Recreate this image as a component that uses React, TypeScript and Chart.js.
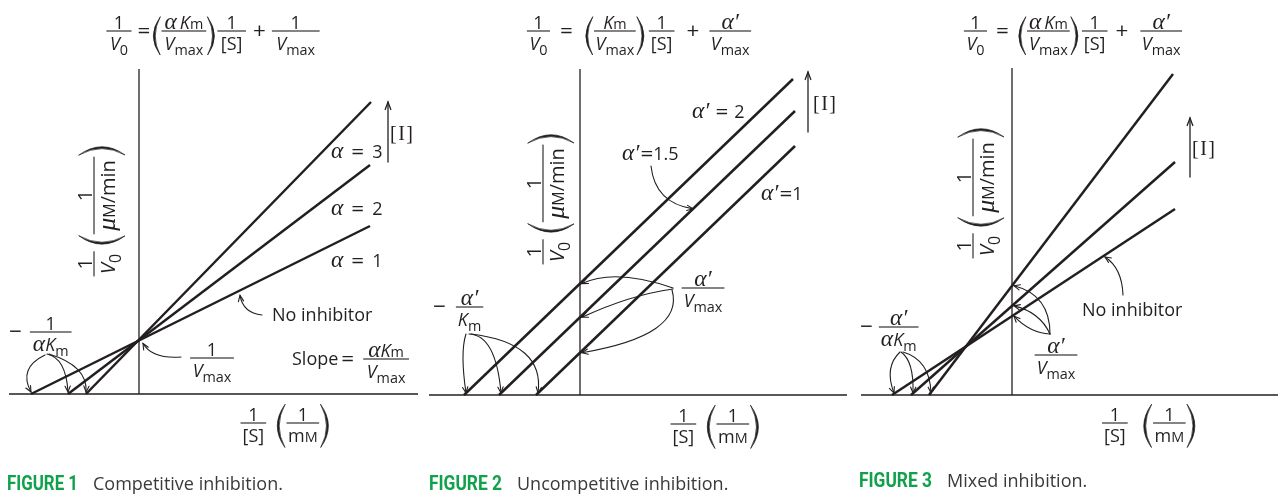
import React, { useEffect, useRef } from 'react';
import { Chart, registerables } from 'chart.js';

Chart.register(...registerables);

type Pt = { x: number; y: number };

// ---------- data (schematic double-reciprocal plots, x = 1/[S], y = 1/V0) ----------
const FIG1_X_RANGE = [-3.25, 6.975];
const FIG1_Y_MAX = 8.125;
const FIG1_SERIES = ['No inhibitor (α = 1)', 'α = 2', 'α = 3'];
const FIG1_NO_INHIBITOR: Pt[] = [{ x: -2.7, y: 0 }, { x: 5.775, y: 4.2 }];
const FIG1_ALPHA_2: Pt[] = [{ x: -1.775, y: 0 }, { x: 5.775, y: 5.725 }];
const FIG1_ALPHA_3: Pt[] = [{ x: -1.325, y: 0 }, { x: 5.8, y: 7.3 }];

const FIG2_X_RANGE = [-3.775, 6.675];
const FIG2_Y_MAX = 8.15;
const FIG2_SERIES = ["α' = 1", "α' = 1.5", "α' = 2"];
const FIG2_ALPHA_P_1: Pt[] = [{ x: -1.1, y: 0 }, { x: 5.375, y: 6.225 }];
const FIG2_ALPHA_P_15: Pt[] = [{ x: -2.025, y: 0 }, { x: 5.375, y: 7.1 }];
const FIG2_ALPHA_P_2: Pt[] = [{ x: -2.9, y: 0 }, { x: 5.325, y: 7.9 }];

const FIG3_X_RANGE = [-3.775, 6.65];
const FIG3_Y_MAX = 8.175;
const FIG3_SERIES = ['No inhibitor', 'Low [I]', 'High [I]'];
const FIG3_NO_INHIBITOR: Pt[] = [{ x: -3.0, y: 0 }, { x: 4.075, y: 4.65 }];
const FIG3_LOW: Pt[] = [{ x: -2.525, y: 0 }, { x: 4.075, y: 5.825 }];
const FIG3_HIGH: Pt[] = [{ x: -2.075, y: 0 }, { x: 4.025, y: 8.025 }];

// ---------- styles ----------
const INK = '#231f20';
const GREEN = '#10a14b';
const CAPTION_INK = '#3a3a3a';
const SANS = '"Open Sans", "Noto Sans", "DejaVu Sans", sans-serif';
const SERIF = '"Liberation Serif", "DejaVu Serif", serif';
const FS = 18;

type Seg = { t: string; st?: 'i' | 'g' | 'sf' | 'op'; sub?: boolean; sc?: boolean };
type Item =
  | { k: 't'; segs: Seg[] }
  | { k: 'f'; num: Seg[]; den: Seg[]; pad: number }
  | { k: 'p'; open: boolean; h: number; dy: number }
  | { k: 's'; w: number };

const g = (t: string): Seg => ({ t, st: 'g' });
const it = (t: string): Seg => ({ t, st: 'i' });
const r = (t: string): Seg => ({ t });
const op = (t: string): Seg => ({ t, st: 'op' });
const sub = (t: string): Seg => ({ t, sub: true });
const sc = (t: string): Seg => ({ t, sc: true });

const ONE = [r('1')];
const V0 = [it('V'), sub('0')];
const VMAX = [it('V'), sub('max')];
const KM = [it('K'), sub('m')];
const ALPHA_P = [g('α′')];
const AKM = [g('α'), ...KM];
const A_KM_SPACED = [g('α'), r('\u2009'), ...KM];
const S_BR = [r('[S]')];
const MM = [r('m'), sc('M')];
const UM_MIN = [g('μ'), sc('M'), r('/min')];

const T = (x: string | Seg[]): Item => ({ k: 't', segs: typeof x === 'string' ? [r(x)] : x });
const O = (x: string): Item => ({ k: 't', segs: [op(x)] });
const F = (num: Seg[], den: Seg[], pad = 6): Item => ({ k: 'f', num, den, pad });
const P = (open: boolean, h: number, dy: number): Item => ({ k: 'p', open, h, dy });
const SP = (w: number): Item => ({ k: 's', w });

function fontOf(s: Seg, size: number): string {
  let z = size;
  if (s.sub) z *= 0.8;
  if (s.sc) z *= 0.8;
  if (s.st === 'i') return `italic ${z}px ${SANS}`;
  if (s.st === 'g') return `italic ${z * 1.3}px ${SERIF}`;
  if (s.st === 'sf') return `${z * 1.08}px ${SERIF}`;
  if (s.st === 'op') return `${z * 1.25}px ${SANS}`;
  return `${z}px ${SANS}`;
}
function segsW(ctx: CanvasRenderingContext2D, segs: Seg[], size: number) {
  let w = 0;
  for (const s of segs) {
    ctx.font = fontOf(s, size);
    w += ctx.measureText(s.t).width;
  }
  return w;
}
function drawSegs(ctx: CanvasRenderingContext2D, segs: Seg[], x: number, base: number, size: number, subDrop: number) {
  for (const s of segs) {
    ctx.font = fontOf(s, size);
    const dy = s.sub ? subDrop : s.st === 'op' ? size * 0.08 : 0;
    ctx.fillText(s.t, x, base + dy);
    x += ctx.measureText(s.t).width;
  }
}
function itemW(ctx: CanvasRenderingContext2D, item: Item, size: number) {
  if (item.k === 't') return segsW(ctx, item.segs, size);
  if (item.k === 'f') return Math.max(segsW(ctx, item.num, size), segsW(ctx, item.den, size)) + item.pad;
  if (item.k === 'p') return Math.max(size * 0.5, item.h * 0.24);
  return item.w;
}
function drawParen(ctx: CanvasRenderingContext2D, x: number, cy: number, h: number, w: number, open: boolean) {
  const top = cy - h / 2;
  const bot = cy + h / 2;
  const e = open ? x + w * 0.85 : x + w * 0.15;
  const bo = open ? x + w * 0.1 : x + w * 0.9;
  const bi = open ? bo + 1.9 : bo - 1.9;
  ctx.beginPath();
  ctx.moveTo(e, top);
  ctx.quadraticCurveTo(2 * bo - e, cy, e, bot);
  ctx.quadraticCurveTo(2 * bi - e, cy, e, top);
  ctx.closePath();
  ctx.fill();
  ctx.lineWidth = 0.7;
  ctx.stroke();
}
function drawItems(ctx: CanvasRenderingContext2D, items: Item[], x0: number, axisY: number, size: number, align: 'left' | 'center') {
  const total = items.reduce((s, i) => s + itemW(ctx, i, size), 0);
  let x = align === 'center' ? x0 - total / 2 : x0;
  for (const item of items) {
    const w = itemW(ctx, item, size);
    if (item.k === 't') drawSegs(ctx, item.segs, x, axisY + size * 0.32, size, size * 0.28);
    else if (item.k === 'f') {
      const nw = segsW(ctx, item.num, size);
      const dw = segsW(ctx, item.den, size);
      drawSegs(ctx, item.num, x + (w - nw) / 2, axisY - 2.2, size, 0);
      drawSegs(ctx, item.den, x + (w - dw) / 2, axisY + size * 1.05, size, size * 0.28);
      ctx.fillRect(x, axisY - 0.55, w, 1.1);
    } else if (item.k === 'p') drawParen(ctx, x, axisY + item.dy, item.h, w, item.open);
    x += w;
  }
}
function textLine(ctx: CanvasRenderingContext2D, items: Item[], x: number, base: number) {
  drawItems(ctx, items, x, base - FS * 0.32, FS, 'left');
}
function arrowHead(ctx: CanvasRenderingContext2D, x: number, y: number, ang: number, len = 6.5, spread = 0.42) {
  ctx.beginPath();
  ctx.moveTo(x - len * Math.cos(ang - spread), y - len * Math.sin(ang - spread));
  ctx.lineTo(x, y);
  ctx.lineTo(x - len * Math.cos(ang + spread), y - len * Math.sin(ang + spread));
  ctx.stroke();
}
function curveArrow(ctx: CanvasRenderingContext2D, x0: number, y0: number, cx: number, cy: number, x1: number, y1: number) {
  ctx.lineWidth = 1.1;
  ctx.beginPath();
  ctx.moveTo(x0, y0);
  ctx.quadraticCurveTo(cx, cy, x1, y1);
  ctx.stroke();
  arrowHead(ctx, x1, y1, Math.atan2(y1 - cy, x1 - cx));
}
function upArrow(ctx: CanvasRenderingContext2D, x: number, yb: number, yt: number) {
  ctx.lineWidth = 1.3;
  ctx.beginPath();
  ctx.moveTo(x, yb);
  ctx.lineTo(x, yt);
  ctx.stroke();
  arrowHead(ctx, x, yt, -Math.PI / 2, 8, 0.36);
}
function bracketI(ctx: CanvasRenderingContext2D, x: number, base: number) {
  ctx.font = `20px ${SERIF}`;
  let cx = x;
  for (const ch of ['[', 'I', ']']) {
    ctx.fillText(ch, cx, base);
    cx += ctx.measureText(ch).width + 1.5;
  }
}
function yLabel(ctx: CanvasRenderingContext2D, barX: number, cy: number) {
  ctx.save();
  ctx.translate(barX, cy);
  ctx.rotate(-Math.PI / 2);
  drawItems(ctx, [F(ONE, V0, 5), SP(6), P(true, 46, 8), F(ONE, UM_MIN, 7), P(false, 46, 8)], 0, 0, 20, 'center');
  ctx.restore();
}
function xLabel(ctx: CanvasRenderingContext2D, cx: number, axisY: number, gap: number) {
  drawItems(ctx, [F(ONE, S_BR, 4), SP(gap), P(true, 43, 3), F(ONE, MM, 3), P(false, 43, 3)], cx, axisY, FS, 'center');
}
function caption(ctx: CanvasRenderingContext2D, fig: string, x: number, w: number, text: string, tx: number, base: number) {
  ctx.save();
  ctx.fillStyle = GREEN;
  ctx.font = `bold 21px Roboto, "DejaVu Sans", sans-serif`;
  const mw = ctx.measureText(fig).width;
  ctx.translate(x, base);
  ctx.scale(w / mw, 1);
  ctx.fillText(fig, 0, 0);
  ctx.restore();
  ctx.save();
  ctx.fillStyle = CAPTION_INK;
  ctx.font = `18px ${SANS}`;
  ctx.fillText(text, tx, base);
  ctx.restore();
}
function lineY(pts: Pt[], x: number) {
  const [p, q] = pts;
  return p.y + ((q.y - p.y) * (x - p.x)) / (q.x - p.x);
}

type Notes = (ctx: CanvasRenderingContext2D, X: (v: number) => number, Y: (v: number) => number) => void;

const notes1: Notes = (ctx, X, Y) => {
  drawItems(ctx, [F(ONE, V0, 7), SP(6), O('='), SP(2), P(true, 38, 5), F(A_KM_SPACED, VMAX, 6), P(false, 38, 5), SP(2), F(ONE, S_BR, 7), SP(7), O('+'), SP(6), F(ONE, VMAX, 9)], 213, 31, FS, 'center');
  yLabel(ctx, 94, 211);
  xLabel(ctx, 285, 423, 10);
  textLine(ctx, [T([g('α')]), SP(8), O('='), SP(8), T('3')], 331, 158);
  textLine(ctx, [T([g('α')]), SP(8), O('='), SP(8), T('2')], 331, 215);
  textLine(ctx, [T([g('α')]), SP(8), O('='), SP(8), T('1')], 331, 267);
  upArrow(ctx, 388, 162, 102);
  bracketI(ctx, 390, 140);
  textLine(ctx, [T('No inhibitor')], 272, 321);
  const tx = 2.525;
  curveArrow(ctx, 262, 315, 243, 313, X(tx), Y(lineY(FIG1_NO_INHIBITOR, tx)) + 5);
  drawItems(ctx, [F(ONE, VMAX, 5)], 212, 358, FS, 'center');
  curveArrow(ctx, 181, 357, 152, 359, X(0) + 4, Y(lineY(FIG1_NO_INHIBITOR, 0)) + 3);
  drawItems(ctx, [T('Slope'), SP(3), O('='), SP(9), F(AKM, VMAX, 7)], 292, 359, FS, 'left');
  drawItems(ctx, [O('−'), SP(8), F(ONE, AKM, 6)], 9, 332, FS, 'left');
  const y0 = Y(0) - 2;
  curveArrow(ctx, 45, 355, 18, 368, X(FIG1_NO_INHIBITOR[0].x), y0);
  curveArrow(ctx, 47, 354, 66, 358, X(FIG1_ALPHA_2[0].x), y0);
  curveArrow(ctx, 49, 354, 88, 366, X(FIG1_ALPHA_3[0].x), y0);
  caption(ctx, 'FIGURE 1', 7, 71, 'Competitive inhibition.', 93, 490);
};

const notes2: Notes = (ctx, X, Y) => {
  drawItems(ctx, [F(ONE, V0, 5), SP(10), O('='), SP(12), P(true, 38, 5), F(KM, VMAX, 3), P(false, 38, 5), SP(4), F(ONE, S_BR, 4), SP(12), O('+'), SP(10), F(ALPHA_P, VMAX, 3)], 639, 31, FS, 'center');
  yLabel(ctx, 543, 199);
  xLabel(ctx, 715, 424, 10);
  textLine(ctx, [T(ALPHA_P), SP(6), O('='), SP(6), T('2')], 692, 118);
  textLine(ctx, [T(ALPHA_P), SP(1), O('='), T('1.5')], 622, 160);
  textLine(ctx, [T(ALPHA_P), SP(1), O('='), T('1')], 761, 200);
  const t15 = 2.825;
  curveArrow(ctx, 651, 166, 655, 203, X(t15), Y(lineY(FIG2_ALPHA_P_15, t15)));
  upArrow(ctx, 808, 132, 72);
  bracketI(ctx, 813, 110);
  drawItems(ctx, [F(ALPHA_P, VMAX, 4)], 703, 288, FS, 'center');
  const ax = X(0) + 2;
  curveArrow(ctx, 673, 288, 615, 268, ax, Y(lineY(FIG2_ALPHA_P_2, 0)));
  curveArrow(ctx, 673, 289, 630, 295, ax, Y(lineY(FIG2_ALPHA_P_15, 0)));
  curveArrow(ctx, 672, 290, 685, 335, ax, Y(lineY(FIG2_ALPHA_P_1, 0)));
  drawItems(ctx, [O('−'), SP(10), F(ALPHA_P, KM, 4)], 433, 307, FS, 'left');
  const y0 = Y(0) - 2;
  curveArrow(ctx, 466, 334, 460, 352, X(FIG2_ALPHA_P_2[0].x) + 2, y0);
  curveArrow(ctx, 469, 334, 496, 335, X(FIG2_ALPHA_P_15[0].x) + 2, y0);
  curveArrow(ctx, 471, 334, 545, 343, X(FIG2_ALPHA_P_1[0].x) + 2, y0);
  caption(ctx, 'FIGURE 2', 429, 73, 'Uncompetitive inhibition.', 517, 490);
};

const notes3: Notes = (ctx, X, Y) => {
  drawItems(ctx, [F(ONE, V0, 5), SP(9), O('='), SP(9), P(true, 38, 5), F(A_KM_SPACED, VMAX, 4), P(false, 38, 5), SP(3), F(ONE, S_BR, 4), SP(8), O('+'), SP(12), F(ALPHA_P, VMAX, 3)], 1073, 31, FS, 'center');
  yLabel(ctx, 973, 193);
  xLabel(ctx, 1149, 423, 15);
  upArrow(ctx, 1190, 177, 118);
  bracketI(ctx, 1192, 155);
  textLine(ctx, [T('No inhibitor')], 1082, 316);
  const tn = 2.325;
  curveArrow(ctx, 1123, 295, 1122, 268, X(tn), Y(lineY(FIG3_NO_INHIBITOR, tn)) + 2);
  drawItems(ctx, [F(ALPHA_P, VMAX, 4)], 1056, 355, FS, 'center');
  const ax = X(0) + 2;
  curveArrow(ctx, 1050, 334, 1050, 295, ax, Y(lineY(FIG3_HIGH, 0)));
  curveArrow(ctx, 1050, 334, 1040, 312, ax, Y(lineY(FIG3_LOW, 0)));
  curveArrow(ctx, 1050, 334, 1030, 333, ax, Y(lineY(FIG3_NO_INHIBITOR, 0)));
  drawItems(ctx, [O('−'), SP(6), F(ALPHA_P, AKM, 4)], 860, 327, FS, 'left');
  const y0 = Y(0) - 2;
  curveArrow(ctx, 900, 352, 884, 367, X(FIG3_NO_INHIBITOR[0].x) + 2, y0);
  curveArrow(ctx, 901, 352, 914, 361, X(FIG3_LOW[0].x) + 2, y0);
  curveArrow(ctx, 903, 352, 930, 360, X(FIG3_HIGH[0].x) + 2, y0);
  caption(ctx, 'FIGURE 3', 859, 73, 'Mixed inhibition.', 947, 487);
};

type PanelCfg = {
  left: number;
  width: number;
  padding: { left: number; right: number; top: number; bottom: number };
  xRange: number[];
  yMax: number;
  names: string[];
  lines: Pt[][];
  notes: Notes;
};

const PANELS: PanelCfg[] = [
  { left: 0, width: 425, padding: { left: 9, right: 7, top: 69, bottom: 106 }, xRange: FIG1_X_RANGE, yMax: FIG1_Y_MAX, names: FIG1_SERIES, lines: [FIG1_NO_INHIBITOR, FIG1_ALPHA_2, FIG1_ALPHA_3], notes: notes1 },
  { left: 425, width: 425, padding: { left: 4, right: 3, top: 69, bottom: 105 }, xRange: FIG2_X_RANGE, yMax: FIG2_Y_MAX, names: FIG2_SERIES, lines: [FIG2_ALPHA_P_1, FIG2_ALPHA_P_15, FIG2_ALPHA_P_2], notes: notes2 },
  { left: 850, width: 431, padding: { left: 11, right: 3, top: 68, bottom: 105 }, xRange: FIG3_X_RANGE, yMax: FIG3_Y_MAX, names: FIG3_SERIES, lines: [FIG3_NO_INHIBITOR, FIG3_LOW, FIG3_HIGH], notes: notes3 },
];

function Panel({ cfg }: { cfg: PanelCfg }) {
  const ref = useRef<HTMLCanvasElement | null>(null);
  useEffect(() => {
    if (!ref.current) return;
    const [xmin, xmax] = cfg.xRange;
    const axisStyle = { showLine: true, pointRadius: 0, borderColor: INK, borderWidth: 1.3, clip: false as any, fill: false };
    const lineStyle = { showLine: true, pointRadius: 0, borderColor: INK, borderWidth: 2.5, clip: false as any, fill: false };
    const notesPlugin = {
      id: 'figureNotes',
      afterDraw(chart: any) {
        const ctx: CanvasRenderingContext2D = chart.ctx;
        const xs = chart.scales.x;
        const ys = chart.scales.y;
        const X = (v: number) => xs.getPixelForValue(v) + cfg.left;
        const Y = (v: number) => ys.getPixelForValue(v);
        ctx.save();
        ctx.translate(-cfg.left, 0);
        ctx.fillStyle = INK;
        ctx.strokeStyle = INK;
        ctx.textAlign = 'left';
        ctx.textBaseline = 'alphabetic';
        ctx.lineCap = 'round';
        cfg.notes(ctx, X, Y);
        ctx.restore();
      },
    };
    const chart = new Chart(ref.current, {
      type: 'scatter',
      data: {
        datasets: [
          { label: 'x axis', data: [{ x: xmin, y: 0 }, { x: xmax, y: 0 }], ...axisStyle },
          { label: 'y axis', data: [{ x: 0, y: 0 }, { x: 0, y: cfg.yMax }], ...axisStyle },
          ...cfg.lines.map((pts, i) => ({ label: cfg.names[i], data: pts, ...lineStyle })),
        ],
      } as any,
      options: {
        responsive: false,
        animation: false,
        devicePixelRatio: 1,
        events: [],
        layout: { padding: cfg.padding },
        scales: {
          x: { type: 'linear', min: xmin, max: xmax, display: false },
          y: { type: 'linear', min: 0, max: cfg.yMax, display: false },
        },
        plugins: { legend: { display: false }, tooltip: { enabled: false } },
      } as any,
      plugins: [notesPlugin],
    });
    return () => chart.destroy();
  }, [cfg]);
  return (
    <canvas
      ref={ref}
      width={cfg.width}
      height={500}
      style={{ position: 'absolute', left: cfg.left, top: 0, width: cfg.width, height: 500, display: 'block' }}
    />
  );
}

export default function App() {
  return (
    <div style={{ position: 'absolute', left: 0, top: 0, width: 1281, height: 500, background: '#ffffff', overflow: 'hidden' }}>
      {PANELS.map((p, i) => (
        <Panel key={i} cfg={p} />
      ))}
    </div>
  );
}
